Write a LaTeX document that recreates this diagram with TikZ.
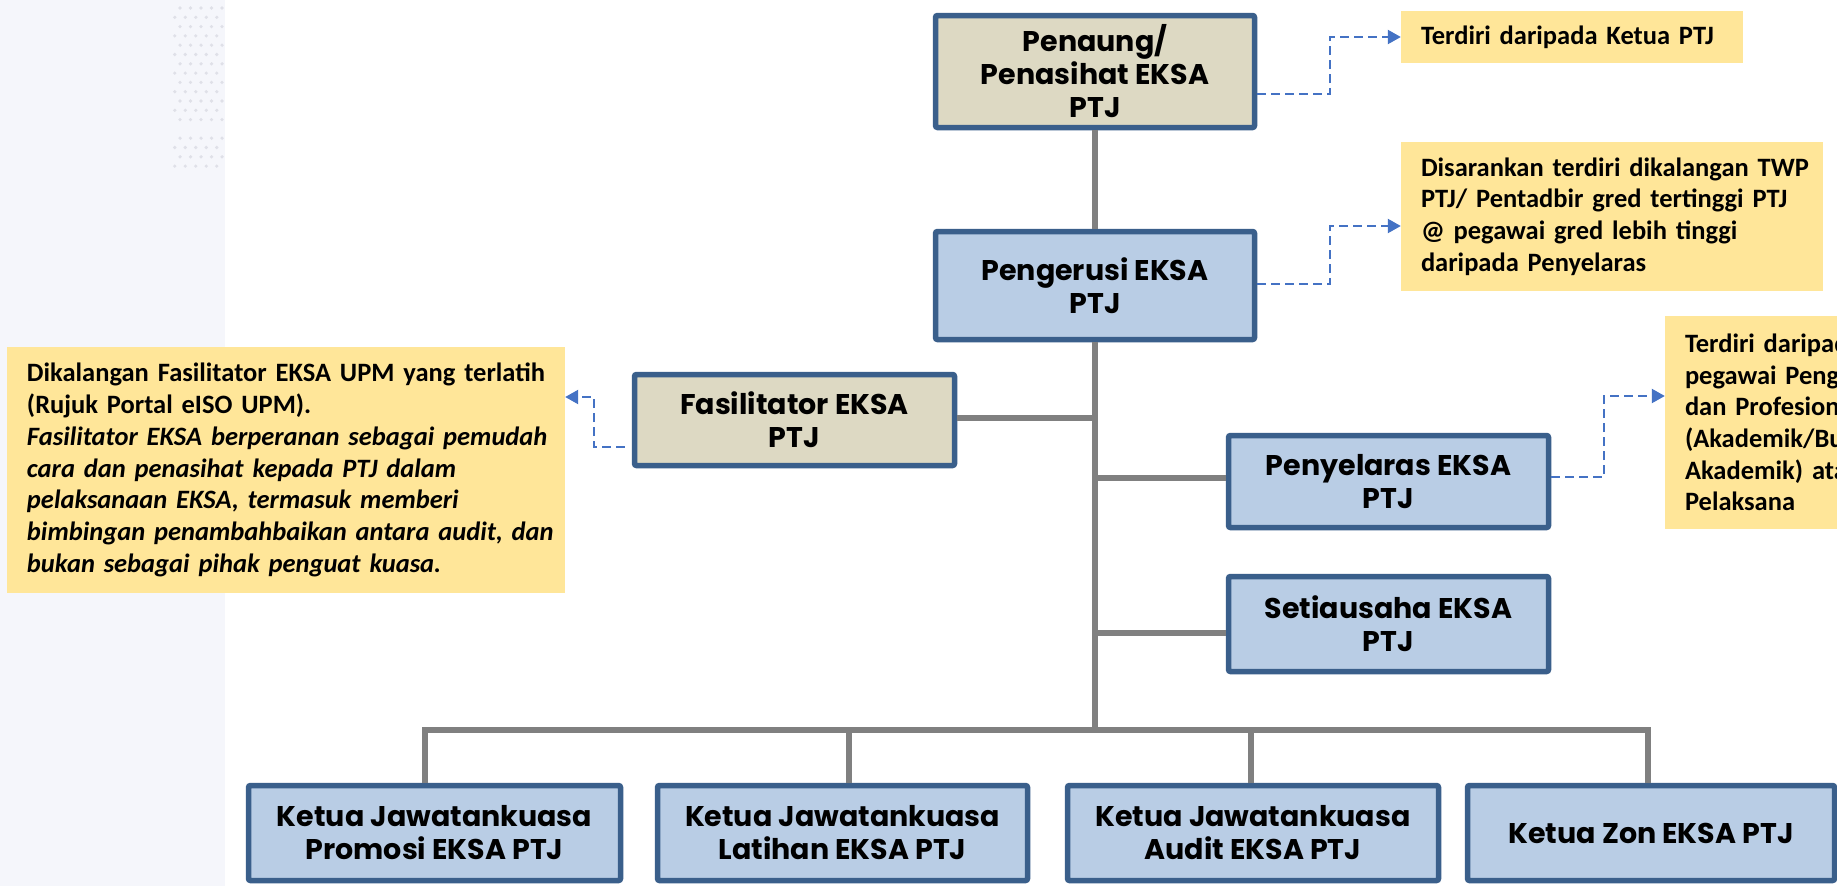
\documentclass[tikz,border=0pt]{standalone}
\usepackage{fontspec}
\setmainfont{Carlito}
\newfontfamily\gothic{Poppins}
\usetikzlibrary{arrows.meta,calc}
\definecolor{boxblue}{HTML}{3A5F8B}
\definecolor{beigefill}{HTML}{DDD9C3}
\definecolor{bluefill}{HTML}{B9CDE5}
\definecolor{conngray}{HTML}{808080}
\definecolor{noteyellow}{HTML}{FFE699}
\definecolor{dashblue}{HTML}{4472C4}
\definecolor{panelc}{HTML}{F5F6FB}
\definecolor{dotc}{HTML}{DFE0E8}
\begin{document}
\begin{tikzpicture}[x=1pt,y=-1pt,
  box/.style={draw=boxblue, line width=5.5pt, rounded corners=2pt, align=center,
    font=\gothic\bfseries\fontsize{28.5}{33}\selectfont, inner sep=0pt},
  beigebox/.style={box, fill=beigefill},
  bluebox/.style={box, fill=bluefill},
  note/.style={fill=noteyellow, align=left, inner xsep=20pt, inner ysep=0pt,
    font=\bfseries\fontsize{26.5}{31.7}\selectfont},
  conn/.style={draw=conngray, line width=5.5pt},
  dashconn/.style={draw=dashblue, line width=2.2pt, dash pattern=on 9pt off 5pt,
    -{Triangle[length=13pt,width=14pt]}}
]
\useasboundingbox (0,0) rectangle (1837,886);
\clip (0,0) rectangle (1837,886);
\fill[white] (0,0) rectangle (1837,886);
% left panel with dots
\fill[panelc] (0,0) rectangle (225,886);
\foreach \j in {0,...,17}{
  \ifnum\j=13\relax\else
  \foreach \k in {0,...,4}{
    \pgfmathsetmacro\xx{222-\k*10.5-mod(\j,2)*5.25}
    \pgfmathsetmacro\yy{8+\j*9.3}
    \fill[dotc] (\xx,\yy) circle (1.8);
  }\fi
}
% notes
\node[note, text width=302pt, minimum height=52pt] (n1) at (1572,37) {\mbox{Terdiri daripada Ketua PTJ}};
\node[note, text width=382pt, minimum height=149pt] (n2) at (1612,216.5)
  {\mbox{Disarankan terdiri dikalangan TWP}\\\mbox{PTJ/ Pentadbir gred tertinggi PTJ}\\\mbox{@ pegawai gred lebih tinggi}\\\mbox{daripada Penyelaras}};
\node[note, text width=280pt, minimum height=213pt] (n3) at (1825,422.5)
  {\mbox{Terdiri daripada}\\\mbox{pegawai Pengurusan}\\\mbox{dan Profesional}\\\mbox{(Akademik/Bukan}\\\mbox{Akademik) atau}\\\mbox{Pelaksana}};
\node[note, text width=518pt, minimum height=246pt] (nl) at (286,470)
  {\mbox{Dikalangan Fasilitator EKSA UPM yang terlatih}\\
   \mbox{(Rujuk Portal eISO UPM).}\\
   \mbox{\itshape Fasilitator EKSA berperanan sebagai pemudah}\\
   \mbox{\itshape cara dan penasihat kepada PTJ dalam}\\
   \mbox{\itshape pelaksanaan EKSA, termasuk memberi}\\
   \mbox{\itshape bimbingan penambahbaikan antara audit, dan}\\
   \mbox{\itshape bukan sebagai pihak penguat kuasa.}};
% boxes
\node[beigebox, minimum width=319pt, minimum height=112pt] (pen) at (1095,71.5) {Penaung/\\Penasihat EKSA\\PTJ};
\node[bluebox, minimum width=319pt, minimum height=108pt] (peng) at (1095,285.5) {Pengerusi EKSA\\PTJ};
\node[beigebox, minimum width=320pt, minimum height=91pt] (fas) at (794.5,420) {Fasilitator EKSA\\PTJ};
\node[bluebox, minimum width=320pt, minimum height=92pt] (pyl) at (1388.5,481.5) {Penyelaras EKSA\\PTJ};
\node[bluebox, minimum width=320pt, minimum height=95pt] (stu) at (1388.5,624) {Setiausaha EKSA\\PTJ};
\node[bluebox, minimum width=372pt, minimum height=95pt] (kpro) at (434.5,833) {Ketua Jawatankuasa\\Promosi EKSA PTJ};
\node[bluebox, minimum width=370pt, minimum height=95pt] (klat) at (842.5,833) {Ketua Jawatankuasa\\Latihan EKSA PTJ};
\node[bluebox, minimum width=371pt, minimum height=95pt] (kaud) at (1253,833) {Ketua Jawatankuasa\\Audit EKSA PTJ};
\node[bluebox, minimum width=367pt, minimum height=95pt] (kzon) at (1651,833) {Ketua Zon EKSA PTJ};
% gray connectors
\coordinate (b1) at (425,730);
\coordinate (b2) at (849,730);
\coordinate (b3) at (1251,730);
\coordinate (b4) at (1648,730);
\coordinate (bj) at (1095,730);
\draw[conn] (pen.south) -- (peng.north);
\draw[conn] (peng.south) -- (bj);
\draw[conn] (b1 |- kpro.north) -- (b1) -- (b4) -- (b4 |- kzon.north);
\draw[conn] (b2) -- (b2 |- klat.north);
\draw[conn] (b3) -- (b3 |- kaud.north);
\draw[conn] ([yshift=2pt]fas.east) -- ([yshift=2pt]fas.east -| bj);
\draw[conn] ([yshift=3.5pt]pyl.west) -- ([yshift=3.5pt]pyl.west -| bj);
\draw[conn] ([yshift=-9pt]stu.west) -- ([yshift=-9pt]stu.west -| bj);
% dashed connectors
\draw[dashconn] ([yshift=-22.5pt]pen.east) -- ++(73,0) |- (n1.west);
\draw[dashconn] ([yshift=1.5pt]peng.east) -- ++(73,0) |- ([yshift=-9.5pt]n2.west);
\draw[dashconn] ([yshift=4.5pt]pyl.east) -- ++(53,0) |- ([yshift=26.5pt]n3.west);
\draw[dashconn] ([xshift=-7pt,yshift=-27pt]fas.west) -- ++(-31,0) |- ([yshift=73pt]nl.east);
\end{tikzpicture}
\end{document}
